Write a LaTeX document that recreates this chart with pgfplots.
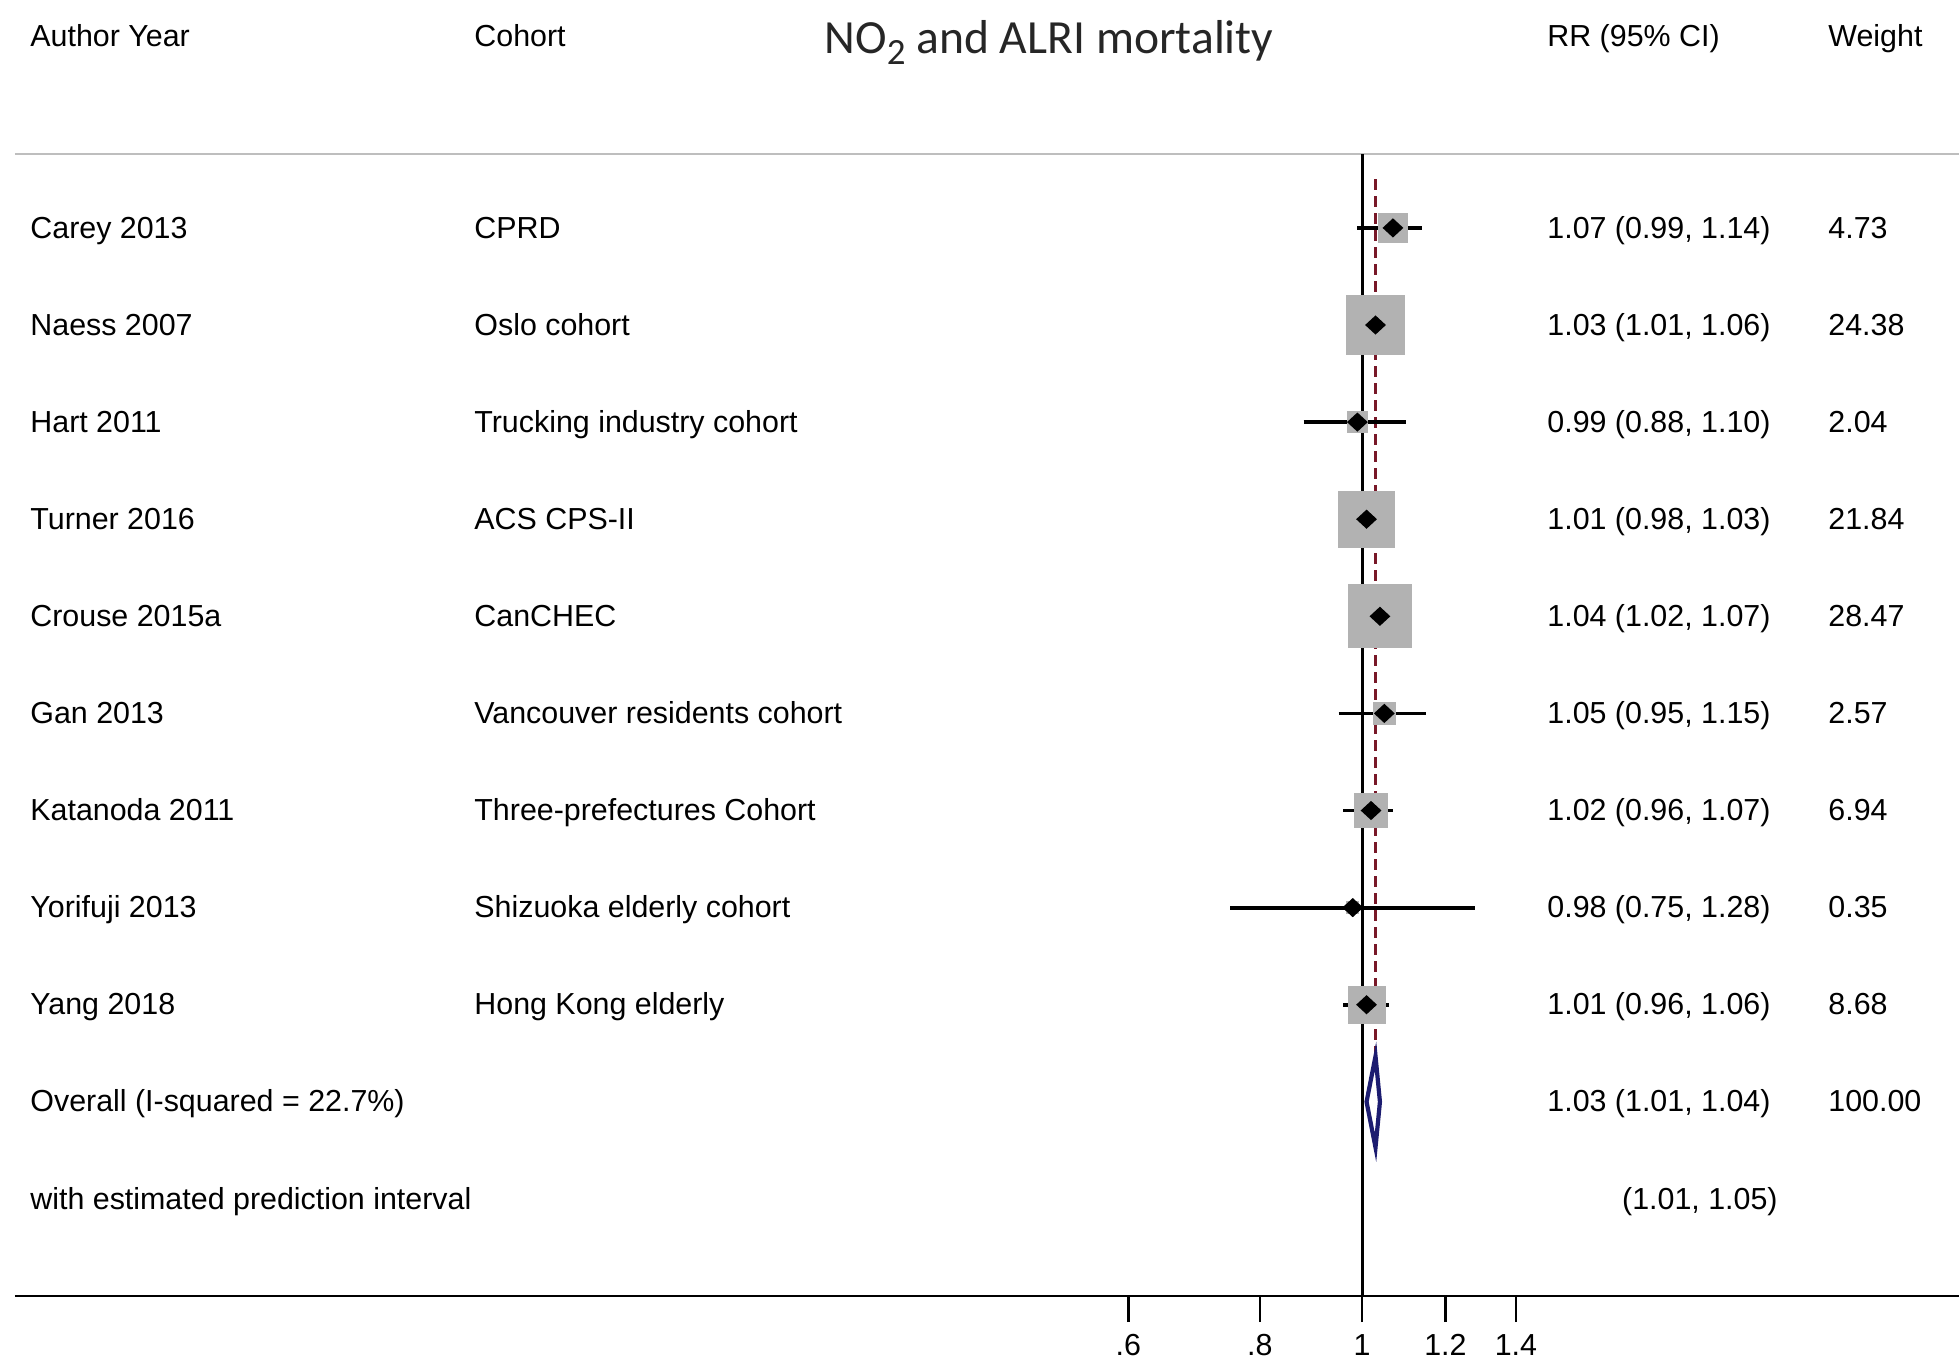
\documentclass[border=0pt]{standalone}
\usepackage{pgfplots}
\pgfplotsset{compat=1.18}
\usepackage{pgfplotstable}
\usepackage{fontspec}
\setmainfont{Liberation Sans}
\newfontfamily\titlefont{Carlito}

\definecolor{boxgray}{RGB}{178,178,178}
\definecolor{pooledline}{RGB}{120,24,40}
\definecolor{pooledblue}{RGB}{28,28,112}
\definecolor{ruleGray}{RGB}{190,190,190}

\newcommand\rowfont{\fontsize{15.2}{18}\selectfont}

% point-estimate marker (Stata style diamond)
\pgfdeclareplotmark{estdiamond}{%
  \pgfpathmoveto{\pgfqpoint{0pt}{4.8pt}}%
  \pgfpathlineto{\pgfqpoint{5.2pt}{0pt}}%
  \pgfpathlineto{\pgfqpoint{0pt}{-4.8pt}}%
  \pgfpathlineto{\pgfqpoint{-5.2pt}{0pt}}%
  \pgfpathclose\pgfusepathqfill}

% study estimates: row position, RR, 95% CI, weight (%)
\pgfplotstableread{
y  rr   lo   hi   w
11 1.07 0.99 1.14 4.73
10 1.03 1.01 1.06 24.38
9  0.99 0.88 1.10 2.04
8  1.01 0.98 1.03 21.84
7  1.04 1.02 1.07 28.47
6  1.05 0.95 1.15 2.57
5  1.02 0.96 1.07 6.94
4  0.98 0.75 1.28 0.35
3  1.01 0.96 1.06 8.68
}\studies

\begin{document}
\begin{tikzpicture}
\begin{axis}[
  at={(7.5pt,-648pt)}, anchor=south west,
  scale only axis, width=972pt, height=571.05pt,
  xmode=log, xmin=0.052647, xmax=3.6874,
  ymin=0, ymax=11.762,
  axis x line*=bottom, axis y line=none,
  x axis line style={-, line width=1.4pt, black},
  xtick={0.6,0.8,1,1.2,1.4}, xticklabels={.6,.8,1,1.2,1.4},
  minor xtick={}, xminorticks=false,
  tick align=outside, major tick length=13pt,
  xtick style={black, line width=1.4pt},
  xticklabel style={font=\rowfont, anchor=north, inner sep=0pt, yshift=-6pt},
  clip=false,
]
% top rule
\addplot[ruleGray, line width=1.2pt] coordinates {(0.052647,11.762) (3.6874,11.762)};

% weight boxes, scaled with the study weight
\addplot[scatter, only marks, mark=square*,
  scatter/use mapped color={draw=boxgray, fill=boxgray},
  mark options={line width=0pt},
  visualization depends on={2.7*sqrt(\thisrow{w})+1.3 \as \perpointmarksize},
  scatter/@pre marker code/.append style={/tikz/mark size=\perpointmarksize}]
  table[x=rr, y=y] {\studies};

% pooled estimate reference line
\addplot[pooledline, line width=1.2pt, dash pattern=on 5.5pt off 3pt]
  coordinates {(1.03,11.5) (1.03,2.5)};

% line of no effect
\addplot[black, line width=1.5pt] coordinates {(1,0) (1,11.762)};

% confidence intervals
\pgfplotsforeachungrouped \i in {0,...,8}{%
  \pgfplotstablegetelem{\i}{lo}\of\studies \let\cilo\pgfplotsretval
  \pgfplotstablegetelem{\i}{hi}\of\studies \let\cihi\pgfplotsretval
  \pgfplotstablegetelem{\i}{y}\of\studies \let\ciy\pgfplotsretval
  \edef\cicmd{\noexpand\addplot[black, line width=1.9pt] coordinates {(\cilo,\ciy) (\cihi,\ciy)};}%
  \cicmd
}

% point estimates
\addplot[only marks, mark=estdiamond, black] table[x=rr, y=y] {\studies};

% pooled estimate
\addplot[pooledblue, line width=2.1pt, fill=white]
  coordinates {(1.01,2) (1.03,2.47) (1.04,2) (1.03,1.53)} -- cycle;
\end{axis}

% title
\node[anchor=base, inner sep=0pt, text=black!85] at (524.5pt,-26.65pt)
  {\titlefont\fontsize{23.8}{28}\selectfont NO\raisebox{-5.8pt}{\fontsize{18.5}{20}\selectfont 2} and ALRI mortality};

\begin{scope}[x=0.5pt, y=-0.5pt, every node/.style={inner sep=0pt, font=\rowfont}]
% column headings
\node[anchor=base west] at (30,46) {Author Year};
\node[anchor=base west] at (474,46) {Cohort};
\node[anchor=base west] at (1547,46) {RR (95\% CI)};
\node[anchor=base west] at (1828,46) {Weight};

% study rows
\foreach \i/\au/\co/\est/\wt in {
  {0/Carey 2013/CPRD/1.07 (0.99, 1.14)/4.73},
  {1/Naess 2007/Oslo cohort/1.03 (1.01, 1.06)/24.38},
  {2/Hart 2011/Trucking industry cohort/0.99 (0.88, 1.10)/2.04},
  {3/Turner 2016/ACS CPS-II/1.01 (0.98, 1.03)/21.84},
  {4/Crouse 2015a/CanCHEC/1.04 (1.02, 1.07)/28.47},
  {5/Gan 2013/Vancouver residents cohort/1.05 (0.95, 1.15)/2.57},
  {6/Katanoda 2011/Three-prefectures Cohort/1.02 (0.96, 1.07)/6.94},
  {7/Yorifuji 2013/Shizuoka elderly cohort/0.98 (0.75, 1.28)/0.35},
  {8/Yang 2018/Hong Kong elderly/1.01 (0.96, 1.06)/8.68},
  {9/Overall (I-squared = 22.7\%)//1.03 (1.01, 1.04)/100.00}}{
  \pgfmathsetmacro\by{238+97.1*\i}
  \node[anchor=base west] at (30,\by) {\au};
  \node[anchor=base west] at (474,\by) {\co};
  \node[anchor=base west] at (1547,\by) {\est};
  \node[anchor=base west] at (1828,\by) {\wt};
}
\node[anchor=base west] at (30,1209) {with estimated prediction interval};
\node[anchor=base east] at (1778,1209) {(1.01, 1.05)};
\end{scope}

\pgfresetboundingbox
\path[use as bounding box] (0pt,0pt) rectangle (979.5pt,-681pt);
\end{tikzpicture}
\end{document}
